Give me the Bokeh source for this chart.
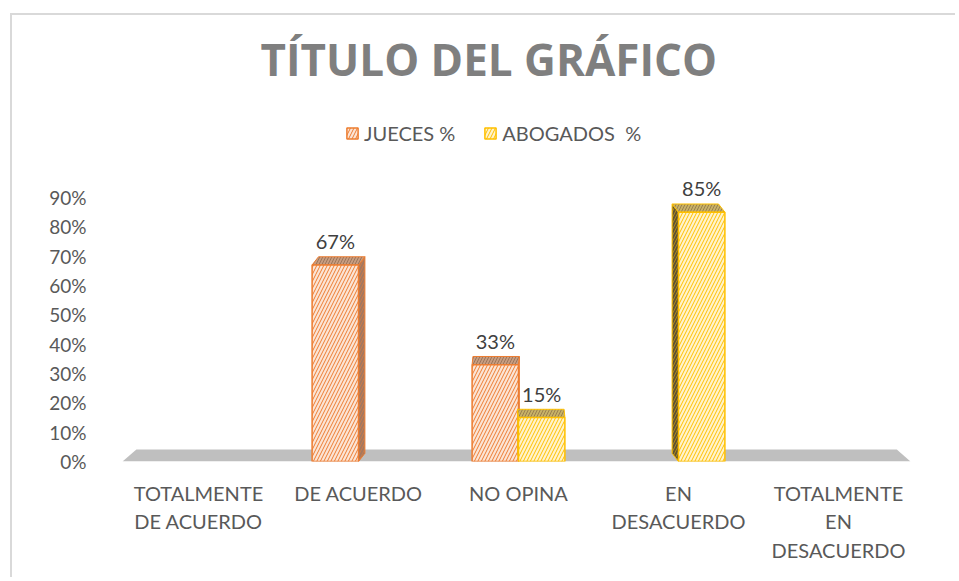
from bokeh.plotting import figure
from bokeh.models import FixedTicker, Legend, LegendItem, Title
from bokeh.embed import file_html
from bokeh.resources import INLINE

# ---------------- data ----------------
categories = ["TOTALMENTE\nDE ACUERDO", "DE ACUERDO", "NO OPINA",
              "EN\nDESACUERDO", "TOTALMENTE\nEN\nDESACUERDO"]
jueces = [0.0, 0.67, 0.33, 0.0, 0.0]
abogados = [0.0, 0.0, 0.15, 0.85, 0.0]
series_names = ["JUECES %", "ABOGADOS  %"]
y_ticks = [0.0, 0.1, 0.2, 0.3, 0.4, 0.5, 0.6, 0.7, 0.8, 0.9]
y_tick_labels = ["0%", "10%", "20%", "30%", "40%", "50%", "60%", "70%", "80%", "90%"]

# ---------------- style ----------------
FONT = "Lato"
TXT = "#595959"
styles = {
    "JUECES %": dict(front="#fbe4d5", hatch="#ed7d31", line="#ed7d31",
                     top="#c89c80", side="#a47860"),
    "ABOGADOS  %": dict(front="#fff3cc", hatch="#ffc000", line="#ffc000",
                        top="#c7b266", side="#5e5232"),
}
offset = 0.145
bar_w = 0.29
depth = 0.028
k_persp = 0.035
floor_depth = 0.041
center = (len(categories) - 1) / 2

# canvas origin is at (12, 15) on the page because of the chart-area border
W, H = 945, 564
p = figure(width=W, height=H, output_backend="svg", toolbar_location=None,
           x_range=(-0.6125, 4.575), y_range=(0, 1.2717),
           min_border_left=88, min_border_right=27, min_border_top=73,
           min_border_bottom=118)
p.styles = {"margin-left": "10px", "margin-top": "13px",
            "border-left": "2px solid #d9d9d9", "border-top": "2px solid #d9d9d9"}
p.outline_line_color = None
p.grid.visible = False
p.background_fill_color = "white"
p.border_fill_color = "white"

p.title = Title(text="TÍTULO DEL GRÁFICO", align="left", offset=160,
                standoff=0, text_font="Open Sans", text_font_size="44px",
                text_font_style="bold", text_color="#7f7f7f")

# floor
n = len(categories)
fl, fr = -0.475, (n - 1) + 0.45
floor_x = [fl, fr, fr + k_persp * (center - fr), fl + k_persp * (center - fl)]
floor_y = [0, 0, floor_depth, floor_depth]
p.patch(floor_x, floor_y, fill_color="#bfbfbf", line_color=None)

legend_items = []
for name, vals, sign in [(series_names[0], jueces, -1), (series_names[1], abogados, 1)]:
    st = styles[name]
    xs, tops = [], []
    for i, v in enumerate(vals):
        if v > 0:
            xs.append(i + sign * offset)
            tops.append(v)
    side_xs, side_ys, top_xs, top_ys = [], [], [], []
    for x, v in zip(xs, tops):
        s = k_persp * (center - x)
        xl, xr = x - bar_w / 2, x + bar_w / 2
        xe = xr if s > 0 else xl
        side_xs.append([xe, xe + s, xe + s, xe])
        side_ys.append([0, depth, v + depth, v])
        top_xs.append([xl, xr, xr + s, xl + s])
        top_ys.append([v, v, v + depth, v + depth])
    p.patches(side_xs, side_ys, fill_color=st["side"], line_color=st["line"],
              line_width=1, hatch_pattern="/", hatch_color=st["hatch"],
              hatch_alpha=0.5, hatch_scale=6, hatch_weight=1)
    p.patches(top_xs, top_ys, fill_color=st["top"], line_color=st["line"],
              line_width=1, hatch_pattern="/", hatch_color="#7a5a40",
              hatch_alpha=0.6, hatch_scale=6, hatch_weight=1)
    r = p.vbar(x=xs, top=tops, width=bar_w, bottom=0, fill_color=st["front"],
               line_color=st["line"], line_width=1.5, hatch_pattern="/",
               hatch_color=st["hatch"], hatch_scale=7, hatch_weight=1)
    legend_items.append(LegendItem(label=name, renderers=[r]))
    p.text(x=xs, y=tops, text=[f"{round(v * 100)}%" for v in tops],
           text_align="center", text_baseline="middle", y_offset=-24,
           text_font_size="20px", text_color="#404040",
           text_font={"value": FONT})

legend = Legend(items=legend_items, orientation="horizontal",
                location=(245, 316), border_line_color=None,
                background_fill_alpha=0, padding=0, margin=0, spacing=28,
                label_text_font=FONT, label_text_font_size="20px",
                label_text_color=TXT, glyph_width=14, glyph_height=14,
                label_standoff=5)
p.add_layout(legend)

# axes
p.yaxis.ticker = FixedTicker(ticks=y_ticks)
p.yaxis.major_label_overrides = {t: l for t, l in zip(y_ticks, y_tick_labels)}
p.yaxis.axis_line_color = None
p.yaxis.major_tick_line_color = None
p.yaxis.minor_tick_line_color = None
p.yaxis.major_label_standoff = 8
p.yaxis.major_label_text_font = FONT
p.yaxis.major_label_text_font_size = "19px"
p.yaxis.major_label_text_color = TXT

p.xaxis.ticker = FixedTicker(ticks=list(range(n)))
p.xaxis.major_label_overrides = {i: c for i, c in enumerate(categories)}
p.xaxis.axis_line_color = None
p.xaxis.major_tick_line_color = None
p.xaxis.minor_tick_line_color = None
p.xaxis.major_label_standoff = 13
p.xaxis.major_label_text_font = FONT
p.xaxis.major_label_text_font_size = "20px"
p.xaxis.major_label_text_color = TXT

open("out.html", "w").write(file_html(p, INLINE))
